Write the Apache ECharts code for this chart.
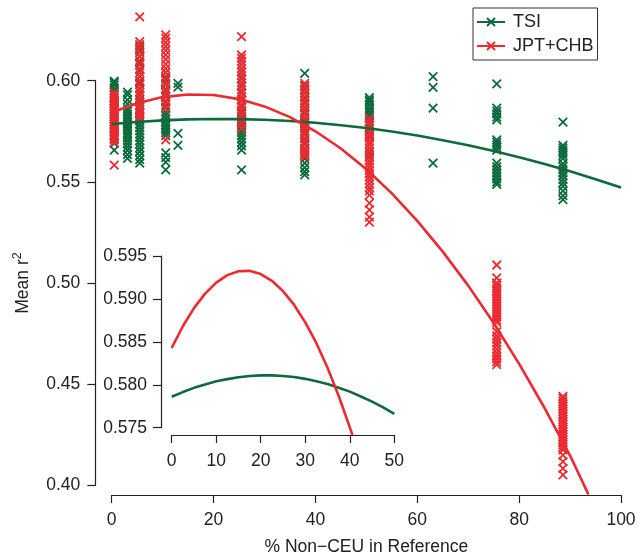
<!DOCTYPE html>
<html>
<head>
<meta charset="utf-8">
<script src="https://cdn.jsdelivr.net/npm/echarts@6/dist/echarts.min.js"></script>
<style>
html,body{margin:0;padding:0;background:#fff;}
#chart{width:638px;height:558px;}
</style>
</head>
<body>
<div id="chart"></div>
<script>
// ---- data ----
const groupX = [0.5, 3.1, 5.5, 10.6, 13.0, 25.5, 37.9, 50.6, 63.1, 75.6, 88.6];

const tsiValues = [
  [0.5998, 0.5990, 0.5979, 0.5965, 0.5950, 0.5932, 0.5915, 0.5900, 0.5885, 0.5872, 0.5860, 0.5848, 0.5835, 0.5822, 0.5810, 0.5798, 0.5786, 0.5774, 0.5760, 0.5745, 0.5730, 0.5712, 0.5690, 0.5657],
  [0.5943, 0.5930, 0.5905, 0.5885, 0.5862, 0.5848, 0.5835, 0.5822, 0.5810, 0.5798, 0.5787, 0.5776, 0.5765, 0.5754, 0.5742, 0.5730, 0.5717, 0.5703, 0.5688, 0.5672, 0.5655, 0.5635, 0.5616],
  [0.6168, 0.6150, 0.6120, 0.6090, 0.6055, 0.6020, 0.5990, 0.5960, 0.5930, 0.5905, 0.5880, 0.5858, 0.5838, 0.5818, 0.5800, 0.5784, 0.5768, 0.5752, 0.5736, 0.5720, 0.5703, 0.5686, 0.5668, 0.5650, 0.5630, 0.5610, 0.5592],
  [0.6040, 0.6012, 0.5985, 0.5955, 0.5925, 0.5895, 0.5868, 0.5845, 0.5828, 0.5812, 0.5796, 0.5782, 0.5768, 0.5755, 0.5742, 0.5728, 0.5643, 0.5620, 0.5598, 0.5559],
  [0.5987, 0.5968, 0.5740, 0.5680],
  [0.6044, 0.6010, 0.5975, 0.5940, 0.5905, 0.5872, 0.5845, 0.5822, 0.5805, 0.5790, 0.5775, 0.5760, 0.5745, 0.5728, 0.5712, 0.5695, 0.5678, 0.5657, 0.5559],
  [0.6036, 0.5975, 0.5960, 0.5940, 0.5915, 0.5890, 0.5865, 0.5840, 0.5815, 0.5790, 0.5765, 0.5740, 0.5715, 0.5690, 0.5665, 0.5640, 0.5615, 0.5592, 0.5570, 0.5550, 0.5534],
  [0.5916, 0.5905, 0.5896, 0.5880, 0.5864, 0.5852, 0.5839, 0.5826, 0.5814, 0.5798, 0.5781, 0.5765, 0.5748, 0.5735, 0.5723, 0.5647, 0.5625],
  [0.6020, 0.5967, 0.5864, 0.5592],
  [0.5984, 0.5864, 0.5850, 0.5836, 0.5820, 0.5806, 0.5707, 0.5695, 0.5683, 0.5670, 0.5657, 0.5592, 0.5575, 0.5560, 0.5545, 0.5530, 0.5515, 0.5500, 0.5487],
  [0.5795, 0.5680, 0.5668, 0.5655, 0.5642, 0.5630, 0.5615, 0.5590, 0.5575, 0.5560, 0.5545, 0.5530, 0.5512, 0.5495, 0.5478, 0.5455, 0.5432, 0.5412]
];

const jptValues = [
  [0.5940, 0.5928, 0.5915, 0.5902, 0.5889, 0.5876, 0.5863, 0.5850, 0.5837, 0.5824, 0.5811, 0.5798, 0.5785, 0.5772, 0.5759, 0.5746, 0.5733, 0.5720, 0.5707, 0.5695, 0.5583],
  [],
  [0.6316, 0.6193, 0.6178, 0.6160, 0.6140, 0.6120, 0.6100, 0.6080, 0.6060, 0.6040, 0.6020, 0.6000, 0.5980, 0.5962, 0.5945, 0.5928, 0.5910, 0.5893, 0.5876, 0.5860, 0.5843, 0.5828, 0.5814],
  [0.6226, 0.6210, 0.6190, 0.6170, 0.6150, 0.6128, 0.6105, 0.6082, 0.6060, 0.6040, 0.6020, 0.6000, 0.5980, 0.5960, 0.5940, 0.5920, 0.5900, 0.5880, 0.5862, 0.5707],
  [],
  [0.6218, 0.6127, 0.6112, 0.6095, 0.6078, 0.6060, 0.6042, 0.6025, 0.6008, 0.5990, 0.5972, 0.5955, 0.5938, 0.5920, 0.5903, 0.5886, 0.5870, 0.5853, 0.5836, 0.5820, 0.5803, 0.5785, 0.5765],
  [0.5987, 0.5972, 0.5955, 0.5938, 0.5920, 0.5902, 0.5885, 0.5868, 0.5850, 0.5833, 0.5816, 0.5800, 0.5783, 0.5766, 0.5750, 0.5733, 0.5716, 0.5700, 0.5683, 0.5666, 0.5650, 0.5636, 0.5624],
  [0.5814, 0.5797, 0.5780, 0.5762, 0.5745, 0.5728, 0.5716, 0.5700, 0.5685, 0.5668, 0.5652, 0.5636, 0.5620, 0.5604, 0.5588, 0.5572, 0.5556, 0.5540, 0.5525, 0.5508, 0.5490, 0.5472, 0.5455, 0.5434, 0.5395, 0.5361, 0.5326, 0.5301],
  [],
  [0.5089, 0.5025, 0.5000, 0.4987, 0.4974, 0.4961, 0.4948, 0.4935, 0.4922, 0.4909, 0.4896, 0.4883, 0.4870, 0.4857, 0.4844, 0.4831, 0.4818, 0.4805, 0.4759, 0.4738, 0.4722, 0.4705, 0.4690, 0.4672, 0.4655, 0.4640, 0.4625, 0.4610, 0.4596],
  [0.4440, 0.4428, 0.4415, 0.4402, 0.4390, 0.4377, 0.4364, 0.4352, 0.4339, 0.4326, 0.4314, 0.4301, 0.4288, 0.4276, 0.4263, 0.4250, 0.4238, 0.4225, 0.4212, 0.4200, 0.4188, 0.4175, 0.4149, 0.4117, 0.4084, 0.4051]
];

// fitted curves
const tsiFitX = [0, 5, 10, 15, 20, 25, 30, 35, 40, 45, 50, 55, 60, 65, 70, 75, 80, 85, 90, 95, 100];
const tsiFitY = [0.5786, 0.5796, 0.5804, 0.5809, 0.5811, 0.5810, 0.5807, 0.5801, 0.5792, 0.5780, 0.5766, 0.5749, 0.5729, 0.5706, 0.5681, 0.5653, 0.5622, 0.5588, 0.5552, 0.5513, 0.5472];
const jptFitX = [0, 5, 10, 15, 20, 25, 30, 35, 40, 45, 50, 55, 60, 65, 70, 75, 80, 85, 90, 93.6];
const jptFitY = [0.5843, 0.5889, 0.5919, 0.5932, 0.5929, 0.5909, 0.5873, 0.5820, 0.5750, 0.5665, 0.5562, 0.5443, 0.5307, 0.5155, 0.4987, 0.4802, 0.4600, 0.4382, 0.4147, 0.3955];

// inset curves
const insetTsiX = [0, 2.5, 5, 7.5, 10, 12.5, 15, 17.5, 20, 22.5, 25, 27.5, 30, 32.5, 35, 37.5, 40, 42.5, 45, 47.5, 50];
const insetTsiY = [0.57860, 0.57915, 0.57964, 0.58004, 0.58040, 0.58066, 0.58088, 0.58102, 0.58109, 0.58110, 0.58103, 0.58090, 0.58069, 0.58042, 0.58008, 0.57966, 0.57920, 0.57864, 0.57804, 0.57737, 0.57660];
const insetJptX = [0, 2.5, 5, 7.5, 10, 12.5, 15, 17.5, 20, 22.5, 25, 27.5, 30, 32.5, 35, 37.5, 40, 40.6];
const insetJptY = [0.58430, 0.58682, 0.58893, 0.59062, 0.59190, 0.59277, 0.59323, 0.59327, 0.59290, 0.59211, 0.59091, 0.58930, 0.58727, 0.58484, 0.58198, 0.57872, 0.57504, 0.57415];

// ---- styling ----
const GREEN = '#0b6b3b';
const RED = '#ec2a30';
const AX = '#222';
const FONT = '"Liberation Sans", Arial, Helvetica, sans-serif';
const FS = 17.5;
const XPATH = 'path://M0,0L10,10M0,10L10,0';

function pairs(xs, ys) { return xs.map((x, i) => [x, ys[i]]); }
function groupPoints(vals) {
  const out = [];
  vals.forEach((arr, i) => arr.forEach(v => out.push([groupX[i], v])));
  return out;
}

const axisCommon = {
  type: 'value',
  splitLine: { show: false },
  axisLine: { show: true, onZero: false, lineStyle: { color: AX, width: 1.2 } },
  axisTick: { show: true, length: 8, lineStyle: { color: AX, width: 1.2 } },
  axisLabel: { color: AX, fontSize: FS, fontFamily: FONT, hideOverlap: false },
  nameTextStyle: { color: AX, fontSize: FS, fontFamily: FONT }
};

const chart = echarts.init(document.getElementById('chart'), null, { renderer: 'canvas' });
const option = {
  animation: false,
  backgroundColor: '#fff',
  textStyle: { fontFamily: FONT },
  grid: [
    { left: 111.7, right: 17, top: 80.7, bottom: 72.7, outerBoundsMode: 'none', containLabel: false },
    { left: 171.7, right: 243.7, top: 256, bottom: 130.3, outerBoundsMode: 'none', containLabel: false }
  ],
  xAxis: [
    Object.assign({}, axisCommon, {
      gridIndex: 0, min: 0, max: 100, interval: 20, offset: 9.7,
      axisLabel: Object.assign({}, axisCommon.axisLabel, { margin: 16 }),
      name: '% Non\u2212CEU in Reference', nameLocation: 'middle', nameGap: 43
    }),
    Object.assign({}, axisCommon, {
      gridIndex: 1, min: 0, max: 50, interval: 10, offset: 7.3,
      axisLabel: Object.assign({}, axisCommon.axisLabel, { margin: 17 })
    })
  ],
  yAxis: [
    Object.assign({}, axisCommon, {
      gridIndex: 0, min: 0.40, max: 0.60, interval: 0.05, offset: 16.4,
      axisLabel: Object.assign({}, axisCommon.axisLabel, { margin: 15, formatter: v => v.toFixed(2) }),
      name: 'Mean r{sup|2}', nameLocation: 'middle', nameGap: 58,
      nameTextStyle: { color: AX, fontSize: FS, fontFamily: FONT, lineHeight: 24,
        rich: { sup: { fontSize: 12.5, fontFamily: FONT, color: AX, verticalAlign: 'top', lineHeight: 10 } } }
    }),
    Object.assign({}, axisCommon, {
      gridIndex: 1, min: 0.575, max: 0.595, interval: 0.005, offset: 10.7,
      axisLabel: Object.assign({}, axisCommon.axisLabel, { margin: 14, formatter: v => v.toFixed(3) })
    })
  ],
  legend: {
    data: ['TSI', 'JPT+CHB'],
    orient: 'vertical', left: 473, top: 8,
    itemWidth: 28, itemHeight: 10, itemGap: 6,
    padding: [5, 4, 5, 3],
    borderColor: '#333', borderWidth: 1,
    selectedMode: false,
    textStyle: { fontSize: 18, color: AX, fontFamily: FONT, padding: [0, 0, 0, 3] }
  },
  series: [
    { name: 'TSI', type: 'line', xAxisIndex: 0, yAxisIndex: 0, data: pairs(tsiFitX, tsiFitY),
      showSymbol: false, symbol: XPATH, symbolSize: 8, clip: false, z: 5,
      lineStyle: { color: GREEN, width: 2.6 },
      itemStyle: { color: GREEN, borderColor: GREEN, borderWidth: 1.6 } },
    { name: 'JPT+CHB', type: 'line', xAxisIndex: 0, yAxisIndex: 0, data: pairs(jptFitX, jptFitY),
      showSymbol: false, symbol: XPATH, symbolSize: 8, clip: false, z: 5,
      lineStyle: { color: RED, width: 2.6 },
      itemStyle: { color: RED, borderColor: RED, borderWidth: 1.6 } },
    { name: 'TSI', type: 'scatter', xAxisIndex: 0, yAxisIndex: 0, data: groupPoints(tsiValues),
      symbol: XPATH, symbolSize: 8.5, clip: false, z: 2,
      itemStyle: { color: GREEN, borderColor: GREEN, borderWidth: 1.8, opacity: 1 } },
    { name: 'JPT+CHB', type: 'scatter', xAxisIndex: 0, yAxisIndex: 0, data: groupPoints(jptValues),
      symbol: XPATH, symbolSize: 8.5, clip: false, z: 3,
      itemStyle: { color: RED, borderColor: RED, borderWidth: 1.8, opacity: 1 } },
    { name: 'TSI inset', type: 'line', xAxisIndex: 1, yAxisIndex: 1, data: pairs(insetTsiX, insetTsiY),
      showSymbol: false, clip: false, z: 5,
      lineStyle: { color: GREEN, width: 2.6 } },
    { name: 'JPT+CHB inset', type: 'line', xAxisIndex: 1, yAxisIndex: 1, data: pairs(insetJptX, insetJptY),
      showSymbol: false, clip: false, z: 5,
      lineStyle: { color: RED, width: 2.6 } }
  ]
};
chart.setOption(option);
</script>
</body>
</html>
